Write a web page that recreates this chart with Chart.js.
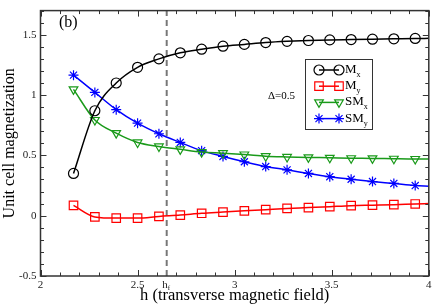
<!DOCTYPE html>
<html>
<head>
<meta charset="utf-8">
<script src="https://cdn.jsdelivr.net/npm/chart.js@4/dist/chart.umd.min.js"></script>
<style>
  html, body { margin: 0; padding: 0; background: #fff; }
  #wrap { width: 436px; height: 307px; position: relative; }
</style>
</head>
<body>
<div id="wrap"><canvas id="magChart"></canvas></div>
<script>
// field values of the markers; the last one (4.0) only carries the line to the edge
const hValues = [2.17, 2.28, 2.39, 2.5, 2.61, 2.72, 2.83, 2.94, 3.05, 3.16, 3.27, 3.38, 3.49, 3.6, 3.71, 3.82, 3.93, 4.0];
const mxValues = [0.35, 0.87, 1.10, 1.23, 1.30, 1.35, 1.38, 1.405, 1.42, 1.435, 1.445, 1.452, 1.457, 1.46, 1.463, 1.466, 1.469, 1.47];
const myValues = [0.085, -0.01, -0.02, -0.02, -0.006, 0.005, 0.02, 0.03, 0.04, 0.05, 0.06, 0.067, 0.075, 0.083, 0.087, 0.091, 0.097, 0.10];
const smxValues = [1.047, 0.793, 0.684, 0.607, 0.574, 0.55, 0.527, 0.518, 0.507, 0.493, 0.487, 0.483, 0.48, 0.476, 0.475, 0.472, 0.47, 0.47];
const smyValues = [1.165, 1.022, 0.879, 0.767, 0.679, 0.607, 0.539, 0.491, 0.447, 0.407, 0.38, 0.35, 0.323, 0.302, 0.283, 0.267, 0.25, 0.245];

const hf = 2.65;
const xTicks = [2, 2.5, 3, 3.5, 4];
const yTicks = [-0.5, 0, 0.5, 1, 1.5];

const serif = "'Liberation Serif', 'DejaVu Serif', serif";

// series look + legend labels (main text, subscript)
const series = [
    { main: 'M', sub: 'x', data: mxValues, color: '#000000', style: 'circle', radius: 5, rotation: 0 },
    { main: 'M', sub: 'y', data: myValues, color: '#ff0000', style: 'rect', radius: 6, rotation: 0 },
    { main: 'SM', sub: 'x', data: smxValues, color: '#1a9a1a', style: 'triangle', radius: 5, rotation: 180 },
    { main: 'SM', sub: 'y', data: smyValues, color: '#0000ff', style: 'star', radius: 5, rotation: 0 },
];

const toPoints = (ys) => hValues.map((h, i) => ({ x: h, y: ys[i] }));
const radii = (r) => hValues.map((h, i) => (i === hValues.length - 1 ? 0 : r));

const datasets = series.map(s => ({
    label: s.main + s.sub,
    data: toPoints(s.data),
    showLine: true,
    borderColor: s.color,
    borderWidth: 1.5,
    cubicInterpolationMode: 'monotone',
    pointStyle: s.style,
    pointRadius: radii(s.radius),
    pointRotation: s.rotation,
    pointBorderColor: s.color,
    pointBackgroundColor: 'rgba(0,0,0,0)',
    pointBorderWidth: 1.2,
}));

// h_f marker line
datasets.push({
    label: 'hf',
    data: [{ x: hf, y: -0.5 }, { x: hf, y: 1.7 }],
    showLine: true,
    borderColor: '#777777',
    borderWidth: 2,
    borderDash: [6, 4],
    pointRadius: 0,
});

// frame, inward ticks, legend and annotations
const decorPlugin = {
    id: 'decor',
    afterDraw(chart) {
        const ctx = chart.ctx;
        const area = chart.chartArea;
        const xs = chart.scales.x;
        const ys = chart.scales.y;
        ctx.save();
        ctx.strokeStyle = '#333';
        ctx.lineWidth = 1;

        // minor/major ticks on all four sides
        for (let k = 0; k <= 20; k++) {
            const v = 2 + k * 0.1;
            const px = Math.round(xs.getPixelForValue(v)) + 0.5;
            const len = k % 5 === 0 ? 6 : 3.5;
            ctx.beginPath();
            ctx.moveTo(px, area.bottom); ctx.lineTo(px, area.bottom - len);
            ctx.moveTo(px, area.top); ctx.lineTo(px, area.top + len);
            ctx.stroke();
        }
        for (let k = 0; k <= 22; k++) {
            const v = -0.5 + k * 0.1;
            const py = Math.round(ys.getPixelForValue(v)) + 0.5;
            const len = k % 5 === 0 ? 6 : 3.5;
            ctx.beginPath();
            ctx.moveTo(area.left, py); ctx.lineTo(area.left + len, py);
            ctx.moveTo(area.right, py); ctx.lineTo(area.right - len, py);
            ctx.stroke();
        }

        // frame
        ctx.lineWidth = 1.5;
        ctx.strokeRect(area.left, area.top, area.right - area.left, area.bottom - area.top);

        // h_f tick label
        ctx.fillStyle = '#222';
        ctx.textBaseline = 'alphabetic';
        const hx = xs.getPixelForValue(hf);
        ctx.font = '11px ' + serif;
        ctx.textAlign = 'right';
        ctx.fillText('h', hx + 1, area.bottom + 12);
        ctx.font = '7px ' + serif;
        ctx.textAlign = 'left';
        ctx.fillText('f', hx + 1, area.bottom + 14);

        // panel tag and parameter
        ctx.fillStyle = '#000';
        ctx.font = '16px ' + serif;
        ctx.fillText('(b)', 59, 27);
        ctx.font = '11px ' + serif;
        ctx.fillText('\u0394=0.5', 268, 99);

        // legend box
        const bx = 305.5, by = 59.5, bw = 67, bh = 70;
        ctx.lineWidth = 1;
        ctx.strokeStyle = '#333';
        ctx.fillStyle = '#fff';
        ctx.fillRect(bx, by, bw, bh);
        ctx.strokeRect(bx, by, bw, bh);
        series.forEach((s, i) => {
            const rowY = 70 + i * 16.2;
            ctx.strokeStyle = s.color;
            ctx.lineWidth = 1.5;
            ctx.beginPath();
            ctx.moveTo(319, rowY); ctx.lineTo(339, rowY);
            ctx.stroke();
            const opts = { pointStyle: s.style, radius: s.radius, rotation: s.rotation, borderWidth: 1.2 };
            ctx.lineWidth = 1.2;
            ctx.fillStyle = 'rgba(0,0,0,0)';
            [319, 339].forEach(px => {
                Chart.helpers.drawPoint(ctx, opts, px, rowY);
            });
            ctx.fillStyle = '#000';
            ctx.font = '13px ' + serif;
            ctx.textAlign = 'left';
            ctx.fillText(s.main, 345, rowY + 3);
            const w = ctx.measureText(s.main).width;
            ctx.font = '8px ' + serif;
            ctx.fillText(s.sub, 345 + w, rowY + 7);
        });
        ctx.restore();
    }
};

new Chart(document.getElementById('magChart').getContext('2d'), {
    type: 'scatter',
    data: { datasets: datasets },
    options: {
        responsive: true,
        maintainAspectRatio: false,
        animation: false,
        layout: { padding: { top: 1, right: 4, left: 0, bottom: 0 } },
        plugins: {
            legend: { display: false },
            tooltip: { enabled: false },
        },
        scales: {
            x: {
                type: 'linear',
                min: 2,
                max: 4,
                afterBuildTicks: (scale) => { scale.ticks = xTicks.map(v => ({ value: v })); },
                afterFit: (scale) => { scale.height = 31; },
                grid: { display: false, drawTicks: false },
                border: { display: false },
                ticks: {
                    maxRotation: 0,
                    padding: 3,
                    color: '#222',
                    font: { family: serif, size: 11 },
                    callback: (v) => String(v),
                },
                title: {
                    display: true,
                    text: 'h (transverse magnetic field)',
                    color: '#000',
                    font: { family: serif, size: 16.5 },
                    padding: { top: 0, bottom: 1 },
                },
            },
            y: {
                type: 'linear',
                min: -0.5,
                max: 1.7,
                afterBuildTicks: (scale) => { scale.ticks = yTicks.map(v => ({ value: v })); },
                afterFit: (scale) => { scale.width = 40.5; },
                grid: { display: false, drawTicks: false },
                border: { display: false },
                ticks: {
                    padding: 4,
                    color: '#222',
                    font: { family: serif, size: 11 },
                    callback: (v) => String(v),
                },
                title: {
                    display: true,
                    text: 'Unit cell magnetization',
                    color: '#000',
                    font: { family: serif, size: 16 },
                    padding: { top: 0, bottom: 0 },
                },
            },
        },
    },
    plugins: [decorPlugin],
});
</script>
</body>
</html>
